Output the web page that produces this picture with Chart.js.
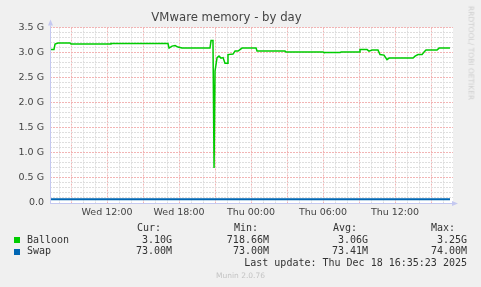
<!DOCTYPE html>
<html>
<head>
<meta charset="utf-8">
<script src="https://cdn.jsdelivr.net/npm/chart.js@4"></script>
<style>
body { margin: 0; background: #f0f0f0; }
#wrap { position: relative; width: 481px; height: 287px; overflow: hidden; font-family: "DejaVu Sans Mono", monospace; font-size: 10px; color: #333; }
#wrap canvas { position: absolute; left: 0; top: 0; }
.t { position: absolute; white-space: pre; line-height: 12px; }
.sw { position: absolute; width: 6px; height: 6px; }
#munin { position: absolute; left: 0; width: 481px; top: 271px; text-align: center; font-family: "DejaVu Sans", sans-serif; font-size: 7.5px; color: #c4c4c4; }
#rrd { position: absolute; left: 471px; top: 53px; transform: translate(-50%, -50%) rotate(90deg); white-space: pre; font-family: "DejaVu Sans", sans-serif; font-size: 7.5px; color: #cfcfcf; }
</style>
</head>
<body>
<div id="wrap">
  <canvas id="memChart" width="481" height="287"></canvas>
  <div id="rrd">RRDTOOL/ TOBI OETIKER</div>

  <div class="t" style="left:137px;top:222px">Cur:</div>
  <div class="t" style="left:234px;top:222px">Min:</div>
  <div class="t" style="left:333px;top:222px">Avg:</div>
  <div class="t" style="left:431px;top:222px">Max:</div>

  <div class="sw" style="left:14px;top:237px;background:#00cc00"></div>
  <div class="t" style="left:27px;top:234px">Balloon</div>
  <div class="t" style="right:309px;top:234px">3.10G</div>
  <div class="t" style="right:212px;top:234px">718.66M</div>
  <div class="t" style="right:113px;top:234px">3.06G</div>
  <div class="t" style="right:14px;top:234px">3.25G</div>

  <div class="sw" style="left:14px;top:249px;background:#0066b3"></div>
  <div class="t" style="left:27px;top:245px">Swap</div>
  <div class="t" style="right:309px;top:245px">73.00M</div>
  <div class="t" style="right:212px;top:245px">73.00M</div>
  <div class="t" style="right:113px;top:245px">73.41M</div>
  <div class="t" style="right:14px;top:245px">74.00M</div>

  <div class="t" style="right:14px;top:257px">Last update: Thu Dec 18 16:35:23 2025</div>
  <div id="munin">Munin 2.0.76</div>
</div>

<script>
// hours counted from Wed 00:00
const startHour = 7.25;
const endHour = 40.83;

const balloonHours = [7.25, 7.58, 7.67, 7.92, 8.92, 9.0, 12.25, 12.33, 17.08, 17.17,
    17.42, 17.67, 17.92, 18.25, 20.58, 20.67, 20.83, 20.92, 21.0, 21.17,
    21.33, 21.5, 21.67, 21.83, 22.0, 22.08, 22.5, 22.67, 22.92, 23.08,
    23.25, 24.42, 24.5, 26.83, 26.92, 30.0, 30.08, 31.42, 31.5, 33.0,
    33.08, 33.67, 33.83, 34.08, 34.58, 34.75, 35.08, 35.33, 35.5, 37.5,
    37.67, 37.92, 38.25, 38.42, 38.58, 39.5, 39.67, 40.58];
const balloonValues = [3.06, 3.06, 3.17, 3.19, 3.19, 3.17, 3.17, 3.18, 3.18, 3.09,
    3.13, 3.14, 3.11, 3.09, 3.09, 3.24, 3.24, 0.70, 2.63, 2.90,
    2.93, 2.89, 2.90, 2.79, 2.79, 2.96, 2.97, 3.03, 3.03, 3.06,
    3.09, 3.09, 3.03, 3.03, 3.01, 3.01, 3.00, 3.00, 3.01, 3.01,
    3.06, 3.06, 3.03, 3.05, 3.05, 2.96, 2.95, 2.86, 2.89, 2.89,
    2.93, 2.96, 2.96, 3.01, 3.05, 3.05, 3.09, 3.09];

const swapHours = [7.25, 40.58];
const swapValues = [0.073, 0.073];

const xTickHours = [12, 18, 24, 30, 36];
const xTickLabels = ["Wed 12:00", "Wed 18:00", "Thu 00:00", "Thu 06:00", "Thu 12:00"];
const yTickValues = [0, 0.5, 1.0, 1.5, 2.0, 2.5, 3.0, 3.5];
const yTickLabels = ["0.0", "0.5 G", "1.0 G", "1.5 G", "2.0 G", "2.5 G", "3.0 G", "3.5 G"];

const gridGray = "#dedede";
const gridRed = "#f2b4b4";
const axisColor = "#c4c8f0";

function toPoints(xs, ys) {
    return xs.map((x, i) => ({ x: x, y: ys[i] }));
}

const decor = {
    id: "decor",
    beforeDraw(chart) {
        let ctx = chart.ctx, a = chart.chartArea;
        ctx.save();
        ctx.fillStyle = "#ffffff";
        ctx.fillRect(a.left, a.top, a.right - a.left, a.bottom - a.top);
        ctx.restore();
    },
    afterDraw(chart) {
        let ctx = chart.ctx, a = chart.chartArea;
        ctx.save();
        ctx.strokeStyle = axisColor;
        ctx.fillStyle = axisColor;
        ctx.lineWidth = 1;
        ctx.beginPath();
        ctx.moveTo(a.left + 0.5, a.bottom);
        ctx.lineTo(a.left + 0.5, a.top - 2);
        ctx.moveTo(a.left, a.bottom + 0.5);
        ctx.lineTo(a.right, a.bottom + 0.5);
        ctx.stroke();
        ctx.beginPath();
        ctx.moveTo(a.left - 2, a.top - 2);
        ctx.lineTo(a.left + 3, a.top - 2);
        ctx.lineTo(a.left + 0.5, a.top - 8);
        ctx.closePath();
        ctx.fill();
        ctx.beginPath();
        ctx.moveTo(a.right - 1, a.bottom - 2);
        ctx.lineTo(a.right - 1, a.bottom + 3);
        ctx.lineTo(a.right + 5, a.bottom + 0.5);
        ctx.closePath();
        ctx.fill();
        ctx.restore();
    }
};

new Chart(document.getElementById("memChart"), {
    type: "line",
    data: {
        datasets: [{
            label: "Balloon",
            data: toPoints(balloonHours, balloonValues),
            borderColor: "#00cc00",
            borderWidth: 1.5,
            pointRadius: 0,
            tension: 0
        }, {
            label: "Swap",
            data: toPoints(swapHours, swapValues),
            borderColor: "#0066b3",
            borderWidth: 2,
            pointRadius: 0,
            tension: 0
        }]
    },
    options: {
        responsive: false,
        animation: false,
        layout: { padding: { left: 0, right: 28, top: 0, bottom: 0 } },
        plugins: {
            legend: { display: false },
            tooltip: { enabled: false },
            title: {
                display: true,
                text: "VMware memory - by day",
                color: "#444",
                font: { family: "DejaVu Sans", size: 11.7, weight: "normal" },
                padding: { top: 11, bottom: 2.5 }
            }
        },
        scales: {
            x: {
                type: "linear",
                min: startHour,
                max: endHour,
                afterFit: s => { s.height = 84; },
                afterBuildTicks: s => {
                    let t = [];
                    for (let h = Math.ceil(startHour); h <= endHour; h++) t.push({ value: h });
                    s.ticks = t;
                },
                grid: {
                    drawTicks: false,
                    color: c => (c.tick && c.tick.value % 3 === 0 ? gridRed : gridGray)
                },
                border: { display: false, dash: [2, 1] },
                ticks: {
                    autoSkip: false,
                    maxRotation: 0,
                    padding: 4,
                    color: "#444",
                    font: { family: "DejaVu Sans", size: 9.5 },
                    callback: v => {
                        let i = xTickHours.indexOf(v);
                        return i >= 0 ? xTickLabels[i] : "";
                    }
                }
            },
            y: {
                min: 0,
                max: 3.5,
                afterFit: s => { s.width = 50; },
                grid: {
                    drawTicks: false,
                    color: c => (c.tick && Math.round(c.tick.value * 10) % 5 === 0 ? gridRed : gridGray)
                },
                border: { display: false, dash: [2, 1] },
                ticks: {
                    stepSize: 0.1,
                    autoSkip: false,
                    padding: 6,
                    color: "#444",
                    font: { family: "DejaVu Sans", size: 9.5 },
                    callback: v => {
                        let i = yTickValues.findIndex(t => Math.abs(t - v) < 1e-6);
                        return i >= 0 ? yTickLabels[i] : "";
                    }
                }
            }
        }
    },
    plugins: [decor]
});
</script>
</body>
</html>
